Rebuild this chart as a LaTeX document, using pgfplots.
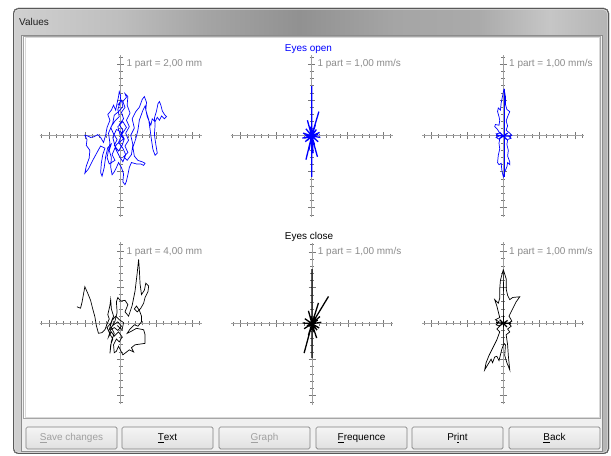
\documentclass[border=0pt]{standalone}
\usepackage{pgfplots}
\pgfplotsset{compat=1.18}
\usepackage{fontspec}
\setmainfont{Liberation Sans}
\definecolor{axgray}{RGB}{160,160,160}
\definecolor{tkgray}{RGB}{120,120,120}
\definecolor{lblgray}{RGB}{140,140,140}
\definecolor{clientbg}{RGB}{240,240,240}
\definecolor{disgray}{RGB}{160,160,160}
\definecolor{fA}{RGB}{208,208,208}
\definecolor{fB}{RGB}{190,190,190}
\definecolor{fC}{RGB}{165,165,165}
\definecolor{fD}{RGB}{145,145,145}
\definecolor{fE}{RGB}{170,170,170}
\definecolor{fF}{RGB}{198,198,198}
\definecolor{fG}{RGB}{180,180,180}
\pgfdeclarehorizontalshading{frameshade}{100bp}{color(0bp)=(fA); color(25bp)=(fA); color(34bp)=(fB); color(41bp)=(fC); color(49bp)=(fD); color(57bp)=(fC); color(64bp)=(fE); color(70bp)=(fF); color(75bp)=(fG); color(100bp)=(fG)}
\pgfplotsset{rose/.style={anchor=center, x=7.17bp, y=7.17bp,
  xmin=-11.3, xmax=11.3, ymin=-11.3, ymax=11.3, enlargelimits=false,
  axis lines=middle,
  axis line style={draw=axgray, line width=1bp, -},
  every inner x axis line/.append style={-},
  every inner y axis line/.append style={-},
  xtick={-10,-5,5,10}, ytick={-10,-5,5,10},
  minor xtick={-11,-10,...,11}, minor ytick={-11,-10,...,11},
  xticklabels={}, yticklabels={},
  tick align=center, major tick length=7bp, minor tick length=4bp,
  tick style={draw=tkgray, line width=0.7bp},
  clip=false}}
\newcommand{\lbl}[1]{\node[anchor=west, inner sep=0pt, text=lblgray, font=\fontsize{10}{12}\selectfont] at (axis cs:0.8,10) {#1};}
\begin{document}
\begin{tikzpicture}[x=1bp,y=1bp]
\useasboundingbox (0,0) rectangle (611,456);
\clip (0,0) rectangle (611,456);
\fill[white] (0,0) rectangle (611,456);
\coordinate (cTL) at (120.7,320);
\coordinate (cTM) at (311.7,320);
\coordinate (cTR) at (503.3,320);
\coordinate (cBL) at (120.7,132.7);
\coordinate (cBM) at (312,132.3);
\coordinate (cBR) at (503.3,132.7);
% window frame
\fill[rounded corners=5bp, shading=frameshade] (13,2) rectangle (609,448);
\draw[rounded corners=5bp, draw=black!65, line width=0.9bp] (13.5,2.5) rectangle (608.5,447.5);
\draw[draw=white!85!black, line width=0.6bp, rounded corners=4bp] (14.6,3.6) rectangle (607.4,446.4);
% client area
\fill[clientbg] (21,4) rectangle (603,421);
\draw[black!45, line width=0.6bp] (21.3,4.3) rectangle (602.7,420.7);
% white panel
\fill[white] (23,37) rectangle (601,420);
\draw[black!35, line width=0.7bp] (23.4,37.4) rectangle (600.6,419.6);
\draw[black!15, line width=0.6bp] (24.8,38.8) rectangle (599.2,418.2);
% title
\node[anchor=west, inner sep=0pt, text=black!88, font=\fontsize{10}{12}\selectfont] at (19,434) {Values};
% buttons
\foreach \bx/\txt/\col in {26/{\underline{S}ave changes}/disgray, 122/{\underline{T}ext}/black, 219/{\underline{G}raph}/disgray, 316/{\underline{F}requence}/black, 412/{Pr\underline{i}nt}/black, 509/{\underline{B}ack}/black}{
  \draw[rounded corners=1.5bp, draw=black!50, line width=0.7bp, top color=white!96!black, bottom color=white!88!black] (\bx,7) rectangle ++(91,22);
  \node[text=\col, font=\fontsize{10}{12}\selectfont] at (\bx+45.5,18) {\txt};
}
% titles
\node[text=blue, font=\fontsize{10}{12}\selectfont] at (308.5,407) {Eyes open};
\node[text=black, font=\fontsize{10}{12}\selectfont] at (309,218.7) {Eyes close};

% ---------- top left ----------
\begin{axis}[rose, at={(cTL)}]
\addplot[blue, line width=0.7bp] coordinates {
(0.0,0.0) (0.3,0.8) (-0.2,1.6) (0.4,2.4) (0.1,3.3) (0.6,4.0) (0.3,4.8) (0.8,5.4) (0.6,5.9) (1.0,5.5)
(0.9,4.3) (1.3,3.2) (0.8,2.2) (1.2,1.3) (0.7,0.4) (1.1,-0.6) (0.6,-1.4) (1.0,-2.3) (0.4,-2.9) (0.9,-3.4)
(1.5,-2.6) (1.7,-1.2) (1.4,0.1) (1.9,1.1) (1.6,2.4) (2.1,3.4) (2.6,4.0) (3.0,5.1) (3.3,5.5) (3.6,4.7)
(3.5,3.6) (3.9,2.3) (4.1,0.9) (4.3,-0.6) (4.5,-1.9) (4.8,-2.7) (5.1,-2.4) (4.9,-1.2) (4.7,0.2) (4.8,1.6)
(4.7,2.5) (5.0,3.5) (5.2,4.5) (5.4,4.8) (5.6,4.3) (5.8,3.5) (6.1,3.0) (6.4,2.7) (6.1,2.4) (5.7,2.8)
(5.4,2.2) (5.1,2.6) (4.8,2.0) (4.4,2.4) (4.2,1.5) (3.7,2.7) (3.4,4.2) (3.1,3.6) (2.6,2.2) (2.4,0.8)
(2.1,-0.4) (1.7,-1.6) (1.9,-2.8) (2.4,-3.4) (3.0,-3.6) (3.4,-3.8) (3.2,-4.1) (2.8,-3.9) (2.2,-3.9) (1.5,-3.7)
(1.2,-4.4) (1.0,-5.4) (0.8,-6.3) (0.6,-6.8) (0.3,-6.4) (0.4,-5.3) (0.1,-4.4) (-0.3,-3.7) (-0.6,-4.4) (-0.9,-5.0)
(-1.2,-5.4) (-1.4,-4.3) (-1.3,-3.0) (-1.6,-2.0) (-1.3,-1.1) (-1.8,-1.6) (-2.1,-2.9) (-2.3,-4.4) (-2.6,-5.6) (-2.8,-5.1)
(-2.7,-3.8) (-2.5,-2.6) (-2.2,-1.7) (-2.8,-1.4) (-3.3,-2.3) (-3.9,-3.4) (-4.5,-4.6) (-5.0,-5.2) (-4.8,-4.2) (-4.4,-3.1)
(-4.3,-2.0) (-4.8,-1.3) (-4.7,-0.5) (-5.0,0.1) (-4.6,0.0) (-4.2,-0.2) (-3.7,-0.1) (-3.2,0.2) (-2.8,-0.2) (-2.4,-0.9)
(-2.1,0.1) (-1.9,1.2) (-1.5,2.2) (-1.8,3.0) (-1.3,3.6) (-1.0,4.3) (-0.7,3.6) (-0.5,4.6) (-0.3,5.5) (-0.2,6.2)
(0.0,5.6) (-0.1,4.6) (-0.4,3.7) (-0.2,2.7) (-0.8,2.1) (-1.4,1.2) (-1.0,0.3) (-0.5,-0.5) (-0.9,-1.3) (-0.3,-2.1)
(0.2,-1.3) (0.5,-0.4) (0.0,0.6) (-0.6,0.9) (-1.1,-0.2) (-0.7,-1.8) (-0.2,-2.8) (0.3,-3.6) (0.7,-2.6) (0.3,-1.7)
(-0.3,-0.9) (0.2,0.3) (0.8,1.2) (0.3,2.0) (-0.4,1.3) (-0.1,0.2) (0.4,-0.4) (-0.6,-1.2) (-1.2,-2.6) (-0.8,-3.4)
(-1.6,-3.9) (-1.9,-3.0) (-1.5,-1.0) (-1.7,0.4) (-1.1,1.8) (-0.9,2.9) (-0.3,3.4) (0.3,4.1) (0.1,5.0) (-0.4,4.3)
};
\lbl{1 part = 2,00 mm}
\end{axis}

% ---------- top middle ----------
\begin{axis}[rose, at={(cTM)}]
\addplot[blue, line width=1.3bp] coordinates {
(0,0) (0,7.0) (0,0) (0.3,1.1) (0,0) (0.65,0.9) (0,0) (1.0,3.4) (0,0) (1.1,0.5) (0,0) (1.2,-0.2)
(0,0) (0.9,-0.8) (0,0) (0.8,-2.9) (0,0) (0.4,-1.2) (0,0) (0,-5.7) (0,0) (-0.3,-1.3) (0,0) (-0.8,-3.3)
(0,0) (-0.9,-0.8) (0,0) (-1.3,-0.3) (0,0) (-1.2,0.4) (0,0) (-0.8,1.0) (0,0) (-0.6,2.2) (0,0) (-0.2,1.3)
(0,0) (0.6,-0.5) (0,0) (-0.6,-0.6) (0,0) (0.9,0.2) (0,0) (-0.9,0.1) (0,0) (0.5,1.5) (0,0) (-0.4,-2.0)
(0,0) (0.2,-2.4) (0,0) (-1.0,-0.3) (0,0)
};
\lbl{1 part = 1,00 mm/s}
\end{axis}

% ---------- top right ----------
\begin{axis}[rose, at={(cTR)}]
\addplot[blue, line width=0.7bp] coordinates {
(0.1,6.6) (0.3,5.5) (0.3,4.4) (0.5,3.7) (0.9,3.4) (0.6,2.7) (0.4,2.1) (0.6,1.4) (0.4,0.8) (0.9,0.4)
(1.2,0.1) (0.8,-0.1) (1.1,-0.3) (0.6,-0.5) (0.5,-1.2) (0.7,-2.0) (0.6,-2.8) (0.9,-3.6) (0.9,-4.0) (0.6,-3.7)
(0.5,-4.3) (0.2,-5.0) (0.0,-5.7) (-0.2,-4.8) (-0.3,-3.8) (-0.6,-4.0) (-0.8,-3.7) (-0.7,-2.7) (-0.5,-1.8) (-0.6,-1.0)
(-0.5,-0.5) (-1.0,-0.2) (-0.6,0.0) (-1.0,0.3) (-0.5,0.4) (-0.8,0.9) (-1.2,1.3) (-1.1,1.6) (-0.6,1.5) (-0.5,2.2)
(-0.6,2.7) (-0.8,3.4) (-0.7,3.9) (-0.4,3.6) (-0.3,4.6) (-0.1,5.6) (0.1,6.6)
};
\addplot[blue, line width=0.9bp] coordinates {(0.1,6.6) (0.1,-5.7)};
\addplot[blue, line width=1.2bp] coordinates {
(0,0) (1.1,0) (0,0) (-1.0,0.1) (0,0) (0.6,0.4) (0,0) (-0.6,-0.4) (0,0) (0.5,-0.5) (0,0) (-0.5,0.5) (0,0)
};
\lbl{1 part = 1,00 mm/s}
\end{axis}

% ---------- bottom left ----------
\begin{axis}[rose, at={(cBL)}]
\addplot[black, line width=0.7bp] coordinates {
(-6.1,2.3) (-5.6,2.1) (-5.4,2.9) (-5.0,5.1) (-4.6,4.2) (-4.2,3.2) (-3.9,2.0) (-3.6,0.9) (-3.4,-0.3) (-3.1,-1.4)
(-2.6,-1.3) (-2.2,-0.9) (-1.9,-0.1) (-1.6,0.6) (-1.8,1.2) (-1.5,2.5) (-1.4,3.3) (-1.3,2.0) (-1.0,1.0) (-1.4,0.0)
(-1.9,-0.6) (-1.5,-1.5) (-1.1,-2.2) (-1.4,-3.0) (-1.5,-4.2) (-1.3,-2.5) (-0.9,-1.4) (-1.3,-0.6) (-0.8,0.3) (-0.5,1.5)
(-0.6,3.0) (-0.4,3.6) (0.0,3.1) (0.6,3.2) (1.0,2.6) (0.6,1.6) (1.1,1.0) (1.6,2.5) (2.0,4.5) (2.3,7.0)
(2.5,8.9) (2.6,7.5) (2.7,5.5) (2.9,4.0) (3.3,4.6) (3.5,5.6) (3.9,5.2) (3.8,4.4) (3.4,3.6) (3.2,2.8)
(2.8,2.1) (2.3,1.6) (1.9,2.0) (2.2,2.4) (2.6,1.8) (2.9,1.0) (2.9,0.2) (2.4,-0.4) (1.9,-0.2) (1.3,-0.8)
(0.9,-1.4) (1.5,-1.1) (2.2,-0.7) (3.2,-0.9) (3.4,-1.6) (3.4,-2.8) (2.7,-2.9) (2.0,-3.0) (1.5,-3.4) (1.8,-4.0)
(1.2,-3.7) (0.7,-4.1) (0.3,-4.4) (0.0,-3.8) (-0.3,-3.2) (-0.6,-3.9) (-0.9,-4.1) (-1.0,-3.0) (-0.6,-2.2) (-0.2,-2.6)
(0.2,-1.9) (-0.3,-1.2) (-0.9,-1.8) (-1.3,-1.2) (-1.7,-1.9) (-1.4,-0.9) (-0.9,-0.6) (-0.4,-1.0) (0.1,-0.4) (-0.4,0.2)
(-1.1,-0.3) (-1.6,-0.9) (-1.2,0.4) (-0.7,1.0) (-0.2,0.5) (0.4,0.1) (0.2,-0.9) (-0.5,-0.3)
};
\lbl{1 part = 4,00 mm}
\end{axis}

% ---------- bottom middle ----------
\begin{axis}[rose, at={(cBM)}]
\addplot[black, line width=1.3bp] coordinates {
(0,0) (0,7.6) (0,0) (0.4,1.3) (0,0) (0.9,2.9) (0,0) (2.3,3.8) (0,0) (1.1,1.0) (0,0) (1.3,0.2)
(0,0) (1.0,-0.6) (0,0) (0.65,-2.0) (0,0) (0.3,-1.2) (0,0) (0,-4.8) (0,0) (-1.1,-4.1) (0,0) (-0.5,-1.6)
(0,0) (-1.1,-0.7) (0,0) (-1.3,0.1) (0,0) (-1.0,0.7) (0,0) (-0.5,1.8) (0,0) (-0.2,1.0) (0,0) (0.7,-0.9)
(0,0) (-0.7,-0.3) (0,0) (0.8,0.5) (0,0)
};
\lbl{1 part = 1,00 mm/s}
\end{axis}

% ---------- bottom right ----------
\begin{axis}[rose, at={(cBR)}]
\addplot[black, line width=0.7bp] coordinates {
(0,7.5) (0.4,6.2) (0.4,4.8) (0.6,3.9) (0.9,3.3) (1.3,3.6) (2.3,3.7) (1.8,3.0) (1.3,2.0) (0.8,1.0)
(1.2,0.3) (0.7,0.0) (1.1,-0.4) (0.6,-0.8) (0.9,-1.2) (0.4,-1.6) (0.6,-3.0) (0.7,-4.5) (0.9,-6.5) (0.5,-5.5)
(0.2,-4.5) (0.3,-3.0) (0.1,-2.8) (-0.2,-3.6) (-0.6,-5.2) (-0.9,-4.6) (-1.2,-4.7) (-1.5,-5.5) (-1.7,-5.0) (-2.6,-6.5)
(-2.4,-5.5) (-2.0,-4.5) (-1.5,-3.5) (-0.9,-2.3) (-0.5,-1.2) (-0.9,-0.8) (-0.5,-0.4) (-1.0,-0.2) (-0.6,0.2) (-1.1,0.5)
(-0.5,0.8) (-0.7,1.6) (-0.9,2.4) (-1.2,3.3) (-0.7,2.8) (-0.5,3.5) (-0.5,4.8) (-0.4,6.0) (0,7.5)
};
\addplot[black, line width=0.6bp] coordinates {(0,7.5) (0.05,3.0) (0,-2.8)};
\addplot[black, line width=1.2bp] coordinates {
(0,0) (1.1,0) (0,0) (-1.0,0.1) (0,0) (0.6,0.4) (0,0) (-0.6,-0.4) (0,0) (0.5,-0.5) (0,0) (-0.5,0.5) (0,0)
};
\lbl{1 part = 1,00 mm/s}
\end{axis}
\end{tikzpicture}
\end{document}
